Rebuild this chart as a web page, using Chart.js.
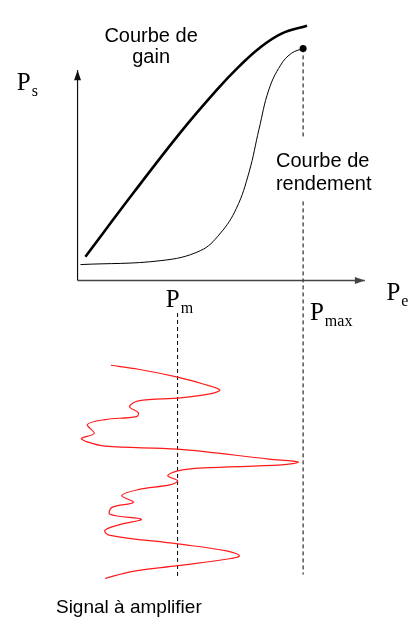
<!DOCTYPE html>
<html>
<head>
<meta charset="utf-8">
<script src="https://cdn.jsdelivr.net/npm/chart.js@4/dist/chart.umd.min.js"></script>
<style>
  html, body { margin: 0; padding: 0; background: #fff; }
  #wrap { width: 414px; height: 619px; }
</style>
</head>
<body>
<div id="wrap"><canvas id="chart" width="414" height="619"></canvas></div>
<script>
// Diagram frame: x grows to the right, y grows downwards (same size as the picture)

// Gain curve (thick black)
const gainX = [83, 133, 180, 217, 240, 260, 283, 309];
const gainY = [256, 190, 130, 87, 63, 45, 30, 22];

// Efficiency curve (thin black), ends on the P max point
const effX = [78, 160, 200, 220, 237, 250, 260, 270, 282, 293, 305];
const effY = [264, 260, 250, 233, 207, 170, 127, 87, 62, 50, 45];

// Signal to amplify (red), read top to bottom
const signalX = [109, 137, 177, 203, 220, 210, 180, 137, 128, 137, 135, 103, 85, 92, 79, 83, 103, 177, 270, 300, 283, 203, 177,
                 167, 177, 170, 137, 120, 132, 110, 108, 140, 120, 103, 107, 177, 227, 240, 230, 177, 130, 103];
const signalY = [366, 370, 378, 385, 391, 395, 399, 402, 408, 414, 418, 421, 426, 435, 440, 443, 448, 451, 461, 464, 467, 470, 473,
                 478, 483, 487, 492, 498, 505, 510, 517, 522, 527, 533, 538, 547, 554, 559, 562, 569, 575, 582];

// Axes (origin, then arrow tip)
const yAxisX = [75, 75];
const yAxisY = [280, 67];
const xAxisX = [75, 368];
const xAxisY = [280, 280];

// Reference levels
const pmX = [177, 177];
const pmY = [313, 580];
const pmaxX = 305;
const pmaxSegments = [[45, 137], [200, 578]];
const pmaxPoint = [305, 45];

// Text labels: [text, x, y]
const curveLabels = [
  ['Courbe de', 150, 38], ['gain', 150, 60],
  ['Courbe de', 325, 165], ['rendement', 326, 188]
];
const signalLabel = ['Signal à amplifier', 53, 617];
// Power symbols: [main, subscript, x, y]
const powerLabels = [
  ['P', 's', 13, 87],
  ['P', 'e', 390, 300],
  ['P', 'm', 165, 307],
  ['P', 'max', 312, 320]
];

function pts(xs, ys) {
  return xs.map((x, i) => ({ x: x, y: ys[i] }));
}

const sansFont = '"Liberation Sans", Arial, sans-serif';
const serifFont = '"Liberation Serif", "Times New Roman", serif';

const datasets = [
  { data: pts(gainX, gainY), borderColor: '#000', borderWidth: 2.6, tension: 0.4 },
  { data: pts(effX, effY), borderColor: '#000', borderWidth: 1, tension: 0.4 },
  { data: pts(signalX, signalY), borderColor: '#ff1a1a', borderWidth: 1.2, tension: 0.35 },
  { data: pts(yAxisX, yAxisY), borderColor: '#111', borderWidth: 1.2, tension: 0 },
  { data: pts(xAxisX, xAxisY), borderColor: '#444', borderWidth: 1.5, tension: 0 },
  { data: pts(pmX, pmY), borderColor: '#000', borderWidth: 1, borderDash: [4, 3], tension: 0 }
];
pmaxSegments.forEach(seg => {
  datasets.push({ data: pts([pmaxX, pmaxX], seg), borderColor: '#000', borderWidth: 1, borderDash: [4, 3], tension: 0 });
});
datasets.push({
  data: [{ x: pmaxPoint[0], y: pmaxPoint[1] }], showLine: false,
  pointRadius: 3.5, pointBackgroundColor: '#000', pointBorderWidth: 0
});

// Arrowheads and texts
const decorations = {
  id: 'decorations',
  afterDatasetsDraw(chart) {
    const ctx = chart.ctx;
    const sx = chart.scales.x, sy = chart.scales.y;
    const px = v => sx.getPixelForValue(v);
    const py = v => sy.getPixelForValue(v);

    function arrow(x0, y0, x1, y1, color) {
      const a = Math.atan2(py(y1) - py(y0), px(x1) - px(x0));
      const len = 10, half = 3.5;
      const tx = px(x1), ty = py(y1);
      ctx.save();
      ctx.fillStyle = color;
      ctx.beginPath();
      ctx.moveTo(tx, ty);
      ctx.lineTo(tx - len * Math.cos(a) + half * Math.sin(a), ty - len * Math.sin(a) - half * Math.cos(a));
      ctx.lineTo(tx - len * Math.cos(a) - half * Math.sin(a), ty - len * Math.sin(a) + half * Math.cos(a));
      ctx.closePath();
      ctx.fill();
      ctx.restore();
    }
    arrow(yAxisX[0], yAxisY[0], yAxisX[1], yAxisY[1], '#111');
    arrow(xAxisX[0], xAxisY[0], xAxisX[1], xAxisY[1], '#444');

    ctx.save();
    ctx.fillStyle = '#000';
    ctx.textBaseline = 'alphabetic';
    ctx.font = '20px ' + sansFont;
    ctx.textAlign = 'center';
    curveLabels.forEach(l => ctx.fillText(l[0], px(l[1]), py(l[2])));
    ctx.textAlign = 'left';
    ctx.font = '19px ' + sansFont;
    ctx.fillText(signalLabel[0], px(signalLabel[1]), py(signalLabel[2]));

    powerLabels.forEach(l => {
      ctx.font = '25px ' + serifFont;
      const w = ctx.measureText(l[0]).width;
      ctx.fillText(l[0], px(l[2]), py(l[3]));
      ctx.font = '16px ' + serifFont;
      ctx.fillText(l[1], px(l[2]) + w + 1, py(l[3]) + 6);
    });
    ctx.restore();
  }
};

new Chart(document.getElementById('chart'), {
  type: 'scatter',
  data: { datasets: datasets },
  options: {
    responsive: false,
    animation: false,
    layout: { padding: 0 },
    elements: { point: { radius: 0 } },
    datasets: { scatter: { showLine: true, fill: false } },
    plugins: { legend: { display: false }, tooltip: { enabled: false } },
    scales: {
      x: { type: 'linear', min: 0, max: 414, display: false },
      y: { type: 'linear', min: 0, max: 619, reverse: true, display: false }
    }
  },
  plugins: [decorations]
});
</script>
</body>
</html>
